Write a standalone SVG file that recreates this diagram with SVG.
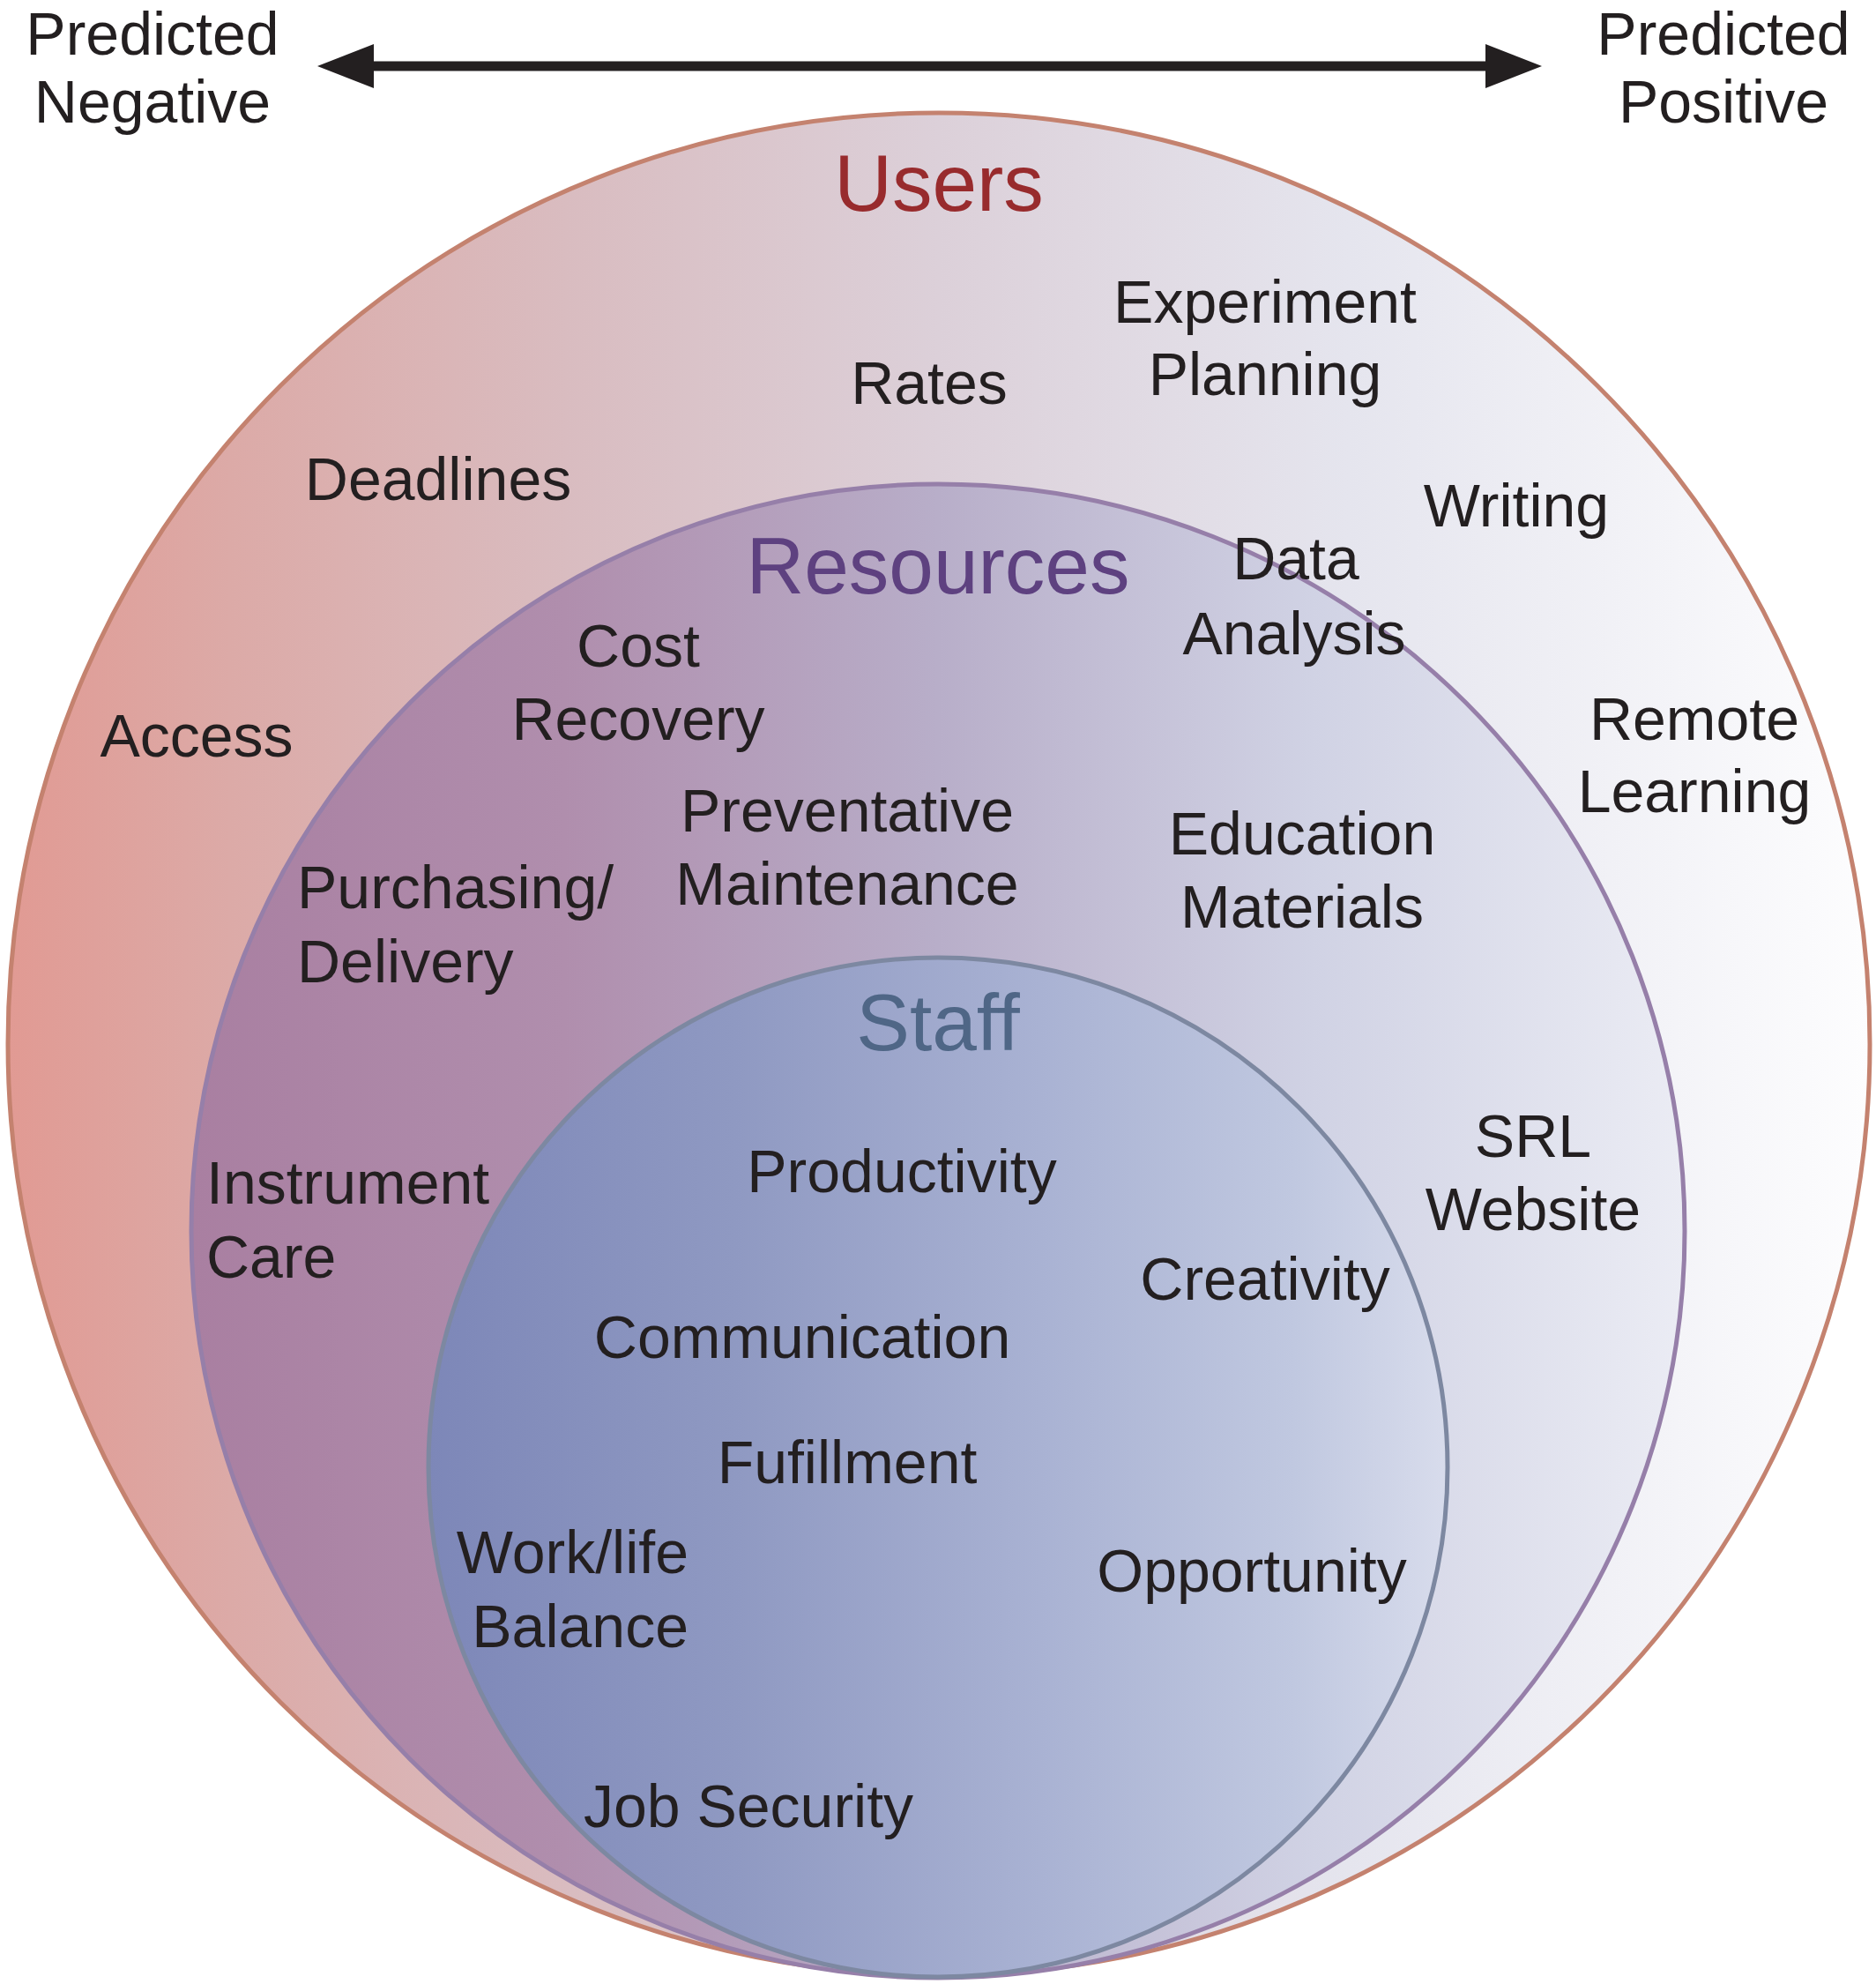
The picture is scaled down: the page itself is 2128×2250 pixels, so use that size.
<svg xmlns="http://www.w3.org/2000/svg" width="2128" height="2250" viewBox="0 0 2128 2250">
<defs>
<linearGradient id="gUsers" gradientUnits="userSpaceOnUse" x1="7" y1="0" x2="2123" y2="0">
<stop offset="0" stop-color="#e19a93"/>
<stop offset="0.12" stop-color="#dcaaa7"/>
<stop offset="0.3" stop-color="#d9bcc0"/>
<stop offset="0.5" stop-color="#dcd0d9"/>
<stop offset="0.72" stop-color="#e5e5ee"/>
<stop offset="1" stop-color="#fdfdfe"/>
</linearGradient>
<linearGradient id="gRes" gradientUnits="userSpaceOnUse" x1="217" y1="0" x2="1911" y2="0">
<stop offset="0" stop-color="#a97fa1"/>
<stop offset="0.25" stop-color="#b08ead"/>
<stop offset="0.5" stop-color="#b8aec9"/>
<stop offset="0.75" stop-color="#d0d2e4"/>
<stop offset="1" stop-color="#ebecf4"/>
</linearGradient>
<linearGradient id="gStaff" gradientUnits="userSpaceOnUse" x1="486" y1="0" x2="1642" y2="0">
<stop offset="0" stop-color="#7d87b8"/>
<stop offset="0.3" stop-color="#8f99c2"/>
<stop offset="0.6" stop-color="#a9b2d3"/>
<stop offset="0.85" stop-color="#c0c8e0"/>
<stop offset="1" stop-color="#d8dcec"/>
</linearGradient>
<style>
.t{font-family:"Liberation Sans",Arial,sans-serif;font-size:68px;fill:#231f20;text-anchor:middle}
.l{text-anchor:start}
.r{text-anchor:end}
.h{font-family:"Liberation Sans",Arial,sans-serif;font-size:91px;text-anchor:middle}
</style>
</defs>

<g id="circles">
<circle id="users-circle" cx="1065" cy="1184" r="1056" fill="url(#gUsers)" stroke="#c4826f" stroke-width="5"/>
<circle id="resources-circle" cx="1064" cy="1396" r="847" fill="url(#gRes)" stroke="#967fa9" stroke-width="5"/>
<circle id="staff-circle" cx="1064" cy="1664" r="578" fill="url(#gStaff)" stroke="#7d88a1" stroke-width="5"/>
</g>

<g id="connectors">
<path d="M408,75 L1700,75" stroke="#231f20" stroke-width="11" fill="none"/>
<path d="M360,75 L424,50 L424,100 Z" fill="#231f20"/>
<path d="M1749,75 L1685,50 L1685,100 Z" fill="#231f20"/>
</g>

<g id="axis-labels">
<text class="t" x="173" y="62">Predicted</text>
<text class="t" x="173" y="139">Negative</text>
<text class="t" x="1955" y="62">Predicted</text>
<text class="t" x="1955" y="139">Positive</text>
</g>

<g id="titles">
<text class="h" x="1065" y="239" fill="#982b2d">Users</text>
<text class="h" x="1064" y="673" fill="#5e4180">Resources</text>
<text class="h" x="1064" y="1191" fill="#4f6686">Staff</text>
</g>

<g id="users-items">
<text class="t" x="1054" y="458">Rates</text>
<text class="t" x="1435" y="366">Experiment</text>
<text class="t" x="1435" y="448">Planning</text>
<text class="t" x="497" y="567">Deadlines</text>
<text class="t" x="1720" y="597">Writing</text>
<text class="t" x="223" y="858">Access</text>
<text class="t" x="1922" y="839">Remote</text>
<text class="t" x="1922" y="921">Learning</text>
</g>

<g id="resources-items">
<text class="t" x="1470" y="657">Data</text>
<text class="t" x="1468" y="742">Analysis</text>
<text class="t" x="724" y="756">Cost</text>
<text class="t" x="724" y="839">Recovery</text>
<text class="t" x="961" y="943">Preventative</text>
<text class="t" x="961" y="1026">Maintenance</text>
<text class="t" x="1477" y="969">Education</text>
<text class="t" x="1477" y="1052">Materials</text>
<text class="t l" x="337" y="1030">Purchasing/</text>
<text class="t l" x="337" y="1114">Delivery</text>
<text class="t" x="1739" y="1312">SRL</text>
<text class="t" x="1739" y="1395">Website</text>
<text class="t l" x="234" y="1365">Instrument</text>
<text class="t l" x="234" y="1449">Care</text>
</g>

<g id="staff-items">
<text class="t" x="1023" y="1352">Productivity</text>
<text class="t" x="1435" y="1474">Creativity</text>
<text class="t" x="910" y="1540">Communication</text>
<text class="t" x="961" y="1682">Fufillment</text>
<text class="t r" x="781" y="1784">Work/life</text>
<text class="t r" x="781" y="1868">Balance</text>
<text class="t" x="1420" y="1805">Opportunity</text>
<text class="t" x="849" y="2072">Job Security</text>
</g>
</svg>
